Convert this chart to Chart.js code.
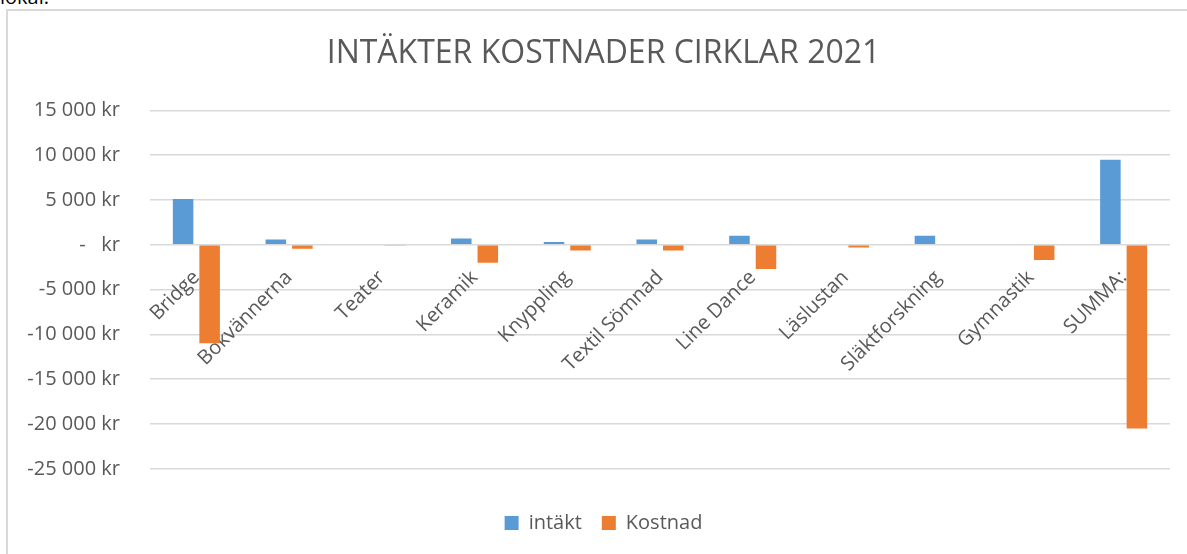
<!DOCTYPE html>
<html>
<head>
<meta charset="utf-8">
<script src="https://cdn.jsdelivr.net/npm/chart.js@4"></script>
<style>
  html, body { margin: 0; padding: 0; background: #fff; overflow: hidden; width: 1187px; height: 554px; }
  .note { position: absolute; left: 0; top: -13px; font: 20px/20px "Open Sans", sans-serif; color: #000; }
  .chart-box { position: absolute; left: 6px; top: 9px; width: 1191px; height: 560px; border: 2px solid #d9d9d9; }
  canvas { display: block; }
</style>
</head>
<body>
<div class="note">lokal.</div>
<div class="chart-box"><canvas id="chart" width="1191" height="560"></canvas></div>
<script>
/* Intäkter / kostnader per cirkel 2021 */
const categories = ['Bridge', 'Bokvännerna', 'Teater', 'Keramik', 'Knyppling', 'Textil Sömnad',
    'Line Dance', 'Läslustan', 'Släktforskning', 'Gymnastik', 'SUMMA:'];
const intakt = [5100, 600, 100, 700, 300, 600, 1000, 100, 1000, 0, 9500];
const kostnad = [-11000, -450, -100, -2000, -650, -650, -2700, -300, 0, -1700, -20500];
const yTicks = [15000, 10000, 5000, 0, -5000, -10000, -15000, -20000, -25000];

const TEXT = '#595959';
const GRID = '#d9d9d9';
const FONT = '"Open Sans", sans-serif';

function kr(v) {
    if (v === 0) return '-\u00A0\u00A0\u00A0kr';
    const s = Math.abs(v).toString().replace(/\B(?=(\d{3})+(?!\d))/g, ' ');
    return (v < 0 ? '-' : '') + s + ' kr';
}

new Chart(document.getElementById('chart'), {
    type: 'bar',
    data: {
        labels: categories,
        datasets: [
            { label: 'intäkt', data: intakt, backgroundColor: '#5b9bd5', borderWidth: 0 },
            { label: 'Kostnad', data: kostnad, backgroundColor: '#ed7d31', borderWidth: 0 }
        ]
    },
    options: {
        responsive: false,
        animation: false,
        events: [],
        layout: { padding: { left: 0, right: 0, top: 0, bottom: 28 } },
        datasets: { bar: { categoryPercentage: 0.572, barPercentage: 0.774 } },
        plugins: {
            title: {
                display: true,
                text: 'INTÄKTER KOSTNADER CIRKLAR 2021',
                color: TEXT,
                font: { family: FONT, size: 32, weight: 'normal' },
                padding: { top: 24, bottom: 37 }
            },
            legend: {
                position: 'bottom',
                // empty legend title only used as a spacer above the items
                title: { display: true, text: '', font: { size: 1 }, padding: { top: 23, bottom: 0 } },
                labels: {
                    color: TEXT,
                    font: { family: FONT, size: 20 },
                    boxWidth: 14,
                    boxHeight: 14,
                    padding: 20
                }
            },
            tooltip: { enabled: false }
        },
        scales: {
            x: {
                position: { y: 0 },
                grid: { display: false, drawTicks: false },
                border: { display: false },
                ticks: {
                    color: TEXT,
                    font: { family: FONT, size: 20 },
                    minRotation: 45,
                    maxRotation: 45,
                    autoSkip: false,
                    padding: 21
                }
            },
            y: {
                min: -25000,
                max: 15000,
                afterFit(scale) { scale.width = 142; },
                afterBuildTicks(scale) { scale.ticks = yTicks.map(v => ({ value: v })); },
                grid: { color: GRID, lineWidth: 1.5, drawTicks: false },
                border: { display: false },
                ticks: {
                    color: TEXT,
                    font: { family: FONT, size: 20 },
                    padding: 30,
                    callback: v => kr(v)
                }
            },
            // empty right-hand spacer so the plot ends where the original does
            spacer: {
                type: 'linear',
                position: 'right',
                afterFit(scale) { scale.width = 29; },
                grid: { display: false, drawTicks: false },
                border: { display: false },
                ticks: { display: false }
            }
        }
    }
});
</script>
</body>
</html>
